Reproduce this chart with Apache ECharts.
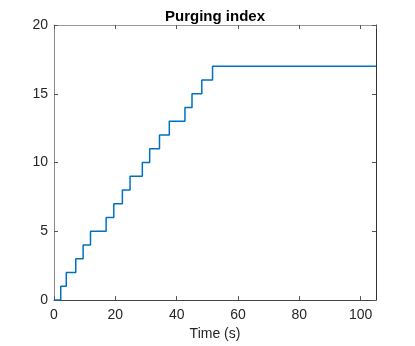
<!DOCTYPE html>
<html>
<head>
	<meta http-equiv="Content-Type" content="text/html;charset=utf-8">
	<title>Purging index</title>
	<style>
	html, body { margin: 0; padding: 0; background: #fff; }
	#chart { width: 415px; height: 346px; }
	</style>
</head>
<body>
<div id="chart"></div>
<script src="https://cdn.jsdelivr.net/npm/echarts@6/dist/echarts.min.js"></script>
<script>
  // step change times (s) and index values
  var times = [0, 2.2, 4.0, 7.1, 9.5, 11.9, 17.0, 19.5, 22.3, 24.8, 28.8, 31.2, 34.4, 37.6, 42.7, 45.0, 48.2, 51.7, 105];
  var index = [0, 1, 2, 3, 4, 5, 6, 7, 8, 9, 10, 11, 12, 13, 14, 15, 16, 17, 17];
  var xTicks = [0, 20, 40, 60, 80, 100];
  var yTicks = [0, 5, 10, 15, 20];

  var points = [];
  for (var i = 0; i < times.length; i++) {
    points.push([times[i], index[i]]);
  }

  var fontFam = '"Liberation Sans", Arial, sans-serif';
  var textCol = '#262626';

  function xAx(pos, labels, col) {
    return {
      type: 'value', position: pos, min: 0, max: 105, interval: 20,
      axisLine: { show: true, onZero: false, lineStyle: { color: col, width: 1 } },
      axisTick: { show: true, inside: true, length: 4, lineStyle: { color: '#555' } },
      axisLabel: {
        show: labels, margin: 8, color: textCol, fontSize: 14, fontFamily: fontFam,
        showMaxLabel: false,
        formatter: function (v) { return xTicks.indexOf(v) >= 0 ? String(v) : ''; }
      },
      splitLine: { show: false },
      name: labels ? 'Time (s)' : '', nameLocation: 'middle', nameGap: 24,
      nameTextStyle: { color: textCol, fontSize: 14, fontFamily: fontFam }
    };
  }
  function yAx(pos, labels, col) {
    return {
      type: 'value', position: pos, min: 0, max: 20, interval: 5,
      axisLine: { show: true, onZero: false, lineStyle: { color: col, width: 1 } },
      axisTick: { show: true, inside: true, length: 4, lineStyle: { color: '#555' } },
      axisLabel: {
        show: labels, margin: 6, color: textCol, fontSize: 14, fontFamily: fontFam,
        formatter: function (v) { return yTicks.indexOf(v) >= 0 ? String(v) : ''; }
      },
      splitLine: { show: false }
    };
  }

  var myChart = echarts.init(document.getElementById('chart'), null, { renderer: 'canvas' });
  myChart.setOption({
    animation: false,
    backgroundColor: '#fff',
    title: {
      text: 'Purging index', left: 160, top: 4,
      textStyle: { color: '#000', fontSize: 15, fontWeight: 'bold', fontFamily: fontFam }
    },
    grid: { left: 54, right: 39, top: 25, bottom: 45 },
    xAxis: [xAx('bottom', true, '#444'), xAx('top', false, '#999')],
    yAxis: [yAx('left', true, '#888'), yAx('right', false, '#333')],
    series: [{
      type: 'line',
      step: 'end',
      data: points,
      showSymbol: false,
      lineStyle: { color: '#0072BD', width: 1.5 },
      itemStyle: { color: '#0072BD' }
    }]
  });
</script>
</body>
</html>
